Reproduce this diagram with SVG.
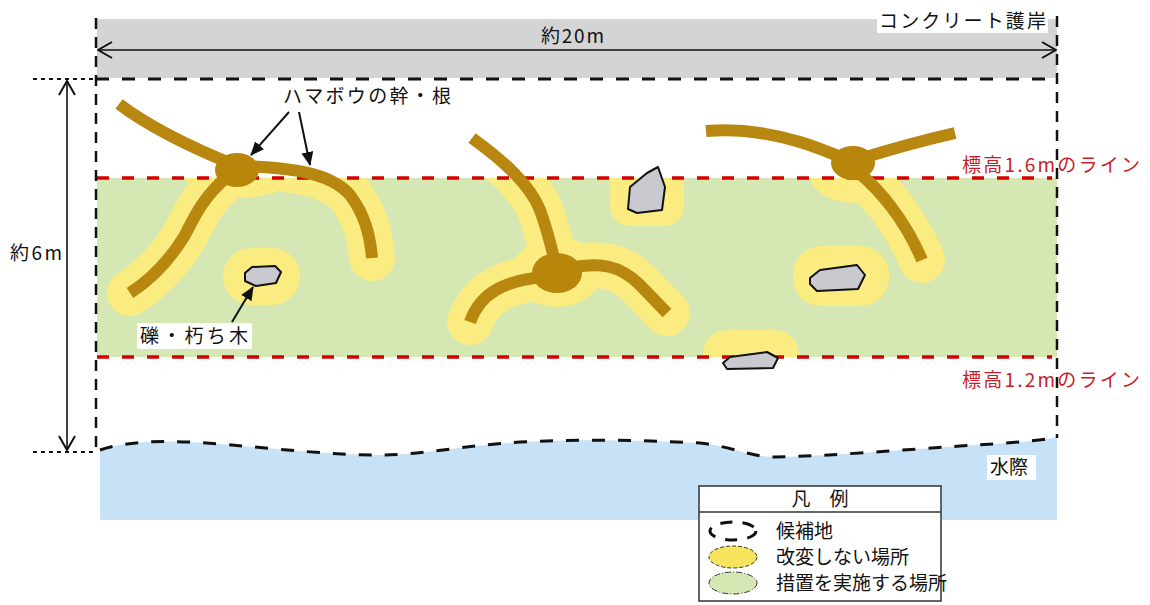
<svg xmlns="http://www.w3.org/2000/svg" width="1150" height="605" viewBox="0 0 1150 605">
  <style>
    text { font-family: "Noto Sans CJK JP", "Noto Sans", sans-serif; fill: #111; }
    .lbl { font-size: 19px; }
    .red { fill: #C81E28; font-size: 19px; }
    .branch { fill: none; stroke: #B8870F; stroke-width: 12; stroke-linecap: butt; stroke-linejoin: round; }
    .trunk { fill: #B8860B; }
    .halo { fill: none; stroke: #FAEC80; stroke-width: 46; stroke-linecap: round; stroke-linejoin: round; }
    .haloFill { fill: #FAEC80; }
    .rock { fill: #C9C9CF; stroke: #111; stroke-width: 2; stroke-linejoin: round; }
    .bdash { fill: none; stroke: #111; stroke-width: 3; stroke-dasharray: 13 13; }
    .vdash { fill: none; stroke: #111; stroke-width: 2.5; stroke-dasharray: 11 8; }
    .dotted { fill: none; stroke: #111; stroke-width: 2; stroke-dasharray: 4 4; }
    .rdash { fill: none; stroke: #D40000; stroke-width: 3.5; stroke-dasharray: 12 13; }
    .dim { fill: none; stroke: #111; stroke-width: 1.6; }
    .lead { fill: none; stroke: #111; stroke-width: 2; }
  </style>
  <defs>
    <marker id="chev" viewBox="0 0 16 18" refX="15" refY="9" markerWidth="16" markerHeight="18" markerUnits="userSpaceOnUse" orient="auto-start-reverse">
      <path d="M1,1 L15,9 L1,17" fill="none" stroke="#111" stroke-width="2"/>
    </marker>
    <marker id="tri" viewBox="0 0 14 12" refX="13" refY="6" markerWidth="14" markerHeight="12" markerUnits="userSpaceOnUse" orient="auto">
      <path d="M0,0 L14,6 L0,12 Z" fill="#111"/>
    </marker>
    <clipPath id="band">
      <rect x="97" y="178" width="960" height="179"/>
    </clipPath>
  </defs>

  <!-- concrete revetment band -->
  <g id="revetment">
    <rect x="97" y="19" width="960" height="59" fill="#D4D4D4"/>
    <rect x="877" y="8" width="171" height="25" fill="#fff"/>
    <text class="lbl" x="879" y="28" textLength="167">コンクリート護岸</text>
  </g>

  <!-- work area (green band) -->
  <g id="work-area">
    <rect x="97" y="178" width="960" height="179" fill="#D5E7B3"/>
  </g>

  <!-- water -->
  <g id="water">
    <path d="M100,450 C130,440 170,440 220,444 C280,449 330,455 380,455 C420,455 460,446 520,442 C580,439 640,440 700,443 C730,446 750,457 775,457 C830,456 900,450 960,446 C1010,443 1040,441 1057,437 L1057,520 L100,520 Z" fill="#C7E2F6"/>
    <path class="bdash" d="M100,450 C130,440 170,440 220,444 C280,449 330,455 380,455 C420,455 460,446 520,442 C580,439 640,440 700,443 C730,446 750,457 775,457 C830,456 900,450 960,446 C1010,443 1040,441 1057,437"/>
    <rect x="987" y="455" width="49" height="25" fill="#fff"/>
    <text class="lbl" x="990" y="474" font-size="20">水際</text>
  </g>

  <!-- unaltered zones (yellow), limited to the band -->
  <g id="unaltered-zones" clip-path="url(#band)">
    <ellipse class="haloFill" cx="240" cy="170" rx="58" ry="28"/>
    <path class="halo" d="M119,104 Q160,135 237,166"/>
    <path class="halo" d="M245,166 C290,168 330,172 350,195 C365,215 370,235 372,258"/>
    <path class="halo" d="M228,176 C205,195 195,215 185,235 C170,260 150,280 130,293"/>
    <rect class="haloFill" x="223" y="248" width="77" height="57" rx="28"/>

    <path class="halo" d="M472,138 C505,162 530,185 540,210 C548,232 552,250 555,262"/>
    <ellipse class="haloFill" cx="557" cy="272" rx="45" ry="35"/>
    <path class="halo" d="M545,277 C505,280 480,293 470,322"/>
    <path class="halo" d="M570,268 C600,262 620,265 640,285 L667,313"/>
    <rect class="haloFill" x="610" y="160" width="74" height="66" rx="20"/>
    <rect class="haloFill" x="703" y="330" width="96" height="50" rx="24"/>

    <ellipse class="haloFill" cx="852" cy="168" rx="45" ry="35"/>
    <path class="halo" d="M858,172 C880,190 905,220 922,260"/>
    <rect class="haloFill" x="793" y="246" width="96" height="60" rx="28"/>
  </g>

  <!-- elevation lines -->
  <g id="elevation-lines">
    <line class="rdash" x1="97" y1="178" x2="1052" y2="178"/>
    <line class="rdash" x1="97" y1="357" x2="1052" y2="357"/>
    <text class="red" x="962" y="172" textLength="178">標高1.6mのライン</text>
    <text class="red" x="962" y="387" textLength="178">標高1.2mのライン</text>
  </g>

  <!-- candidate site outline -->
  <g id="site-outline">
    <line class="bdash" x1="96" y1="79" x2="1057" y2="79"/>
    <line class="vdash" x1="96" y1="18" x2="96" y2="452"/>
    <line class="vdash" x1="1057" y1="16" x2="1057" y2="438"/>
    <line class="dotted" x1="33" y1="79" x2="96" y2="79"/>
    <line class="dotted" x1="33" y1="452" x2="96" y2="452"/>
  </g>

  <!-- Hamabo trees: trunks and roots -->
  <g id="tree-1">
    <path class="branch" d="M119,104 Q160,135 237,166"/>
    <path class="branch" d="M245,166 C290,168 330,172 350,195 C365,215 370,235 372,258"/>
    <path class="branch" d="M228,176 C205,195 195,215 185,235 C170,260 150,280 130,293"/>
    <ellipse class="trunk" cx="237" cy="170" rx="22" ry="17"/>
  </g>
  <g id="tree-2">
    <path class="branch" d="M472,138 C505,162 530,185 540,210 C548,232 552,250 555,262"/>
    <path class="branch" d="M545,277 C505,280 480,293 470,322"/>
    <path class="branch" d="M570,268 C600,262 620,265 640,285 L667,313"/>
    <ellipse class="trunk" cx="557" cy="273" rx="25" ry="20"/>
  </g>
  <g id="tree-3">
    <path class="branch" d="M706,131 C740,128 770,133 800,142 C820,148 835,155 848,160"/>
    <path class="branch" d="M866,157 C895,148 925,140 955,133"/>
    <path class="branch" d="M858,172 C880,190 905,220 922,260"/>
    <ellipse class="trunk" cx="853" cy="163" rx="22" ry="17"/>
  </g>

  <!-- gravel and rotten wood -->
  <g id="rocks">
    <path class="rock" d="M245,273 L252,267 L275,266 L281,272 L276,283 L256,286 L245,281 Z"/>
    <path class="rock" d="M630,187 L647,173 L658,167 L665,187 L662,210 L637,213 L628,209 Z"/>
    <path class="rock" d="M810,278 L820,270 L857,265 L865,275 L858,289 L817,291 L810,284 Z"/>
    <path class="rock" d="M723,363 L730,357 L767,352 L778,358 L773,368 L727,369 Z"/>
  </g>

  <!-- labels -->
  <g id="label-hamabo">
    <text class="lbl" x="283" y="103" textLength="168">ハマボウの幹・根</text>
  </g>
  <g id="label-gravel">
    <rect x="137" y="323" width="115" height="26" fill="#fff"/>
    <text class="lbl" x="140" y="343" textLength="108">礫・朽ち木</text>
  </g>
  <g id="label-width">
    <text class="lbl" x="541" y="43" font-size="20" textLength="63">約20m</text>
  </g>
  <g id="label-depth">
    <text class="lbl" x="10" y="260" font-size="20" textLength="52">約6m</text>
  </g>

  <!-- connectors: dimension lines and leaders -->
  <g id="connectors">
    <line class="dim" x1="98" y1="50" x2="1056" y2="50" marker-start="url(#chev)" marker-end="url(#chev)"/>
    <line class="dim" x1="67" y1="81" x2="67" y2="450" marker-start="url(#chev)" marker-end="url(#chev)"/>
    <line class="lead" x1="289" y1="112" x2="251" y2="155" marker-end="url(#tri)"/>
    <line class="lead" x1="299" y1="112" x2="310" y2="165" marker-end="url(#tri)"/>
    <line class="lead" x1="232" y1="322" x2="253" y2="287" marker-end="url(#tri)"/>
  </g>

  <!-- legend -->
  <g id="legend">
    <rect x="699" y="486" width="242" height="115" fill="#fff" stroke="#333" stroke-width="1.5"/>
    <line x1="699" y1="512" x2="941" y2="512" stroke="#333" stroke-width="1.5"/>
    <text class="lbl" x="820" y="506" text-anchor="middle" font-size="18">凡　例</text>
    <ellipse cx="733" cy="531" rx="23" ry="9" fill="none" stroke="#111" stroke-width="3" stroke-dasharray="12 10"/>
    <ellipse cx="733" cy="557" rx="24" ry="11" fill="#F8E35C" stroke="#333" stroke-width="1" stroke-dasharray="4 2"/>
    <ellipse cx="733" cy="583" rx="24" ry="11" fill="#D5E7B3" stroke="#333" stroke-width="1" stroke-dasharray="6 2 1 2"/>
    <text class="lbl" x="776" y="538" font-size="18">候補地</text>
    <text class="lbl" x="776" y="564" font-size="18">改変しない場所</text>
    <text class="lbl" x="776" y="590" font-size="18">措置を実施する場所</text>
  </g>
</svg>
